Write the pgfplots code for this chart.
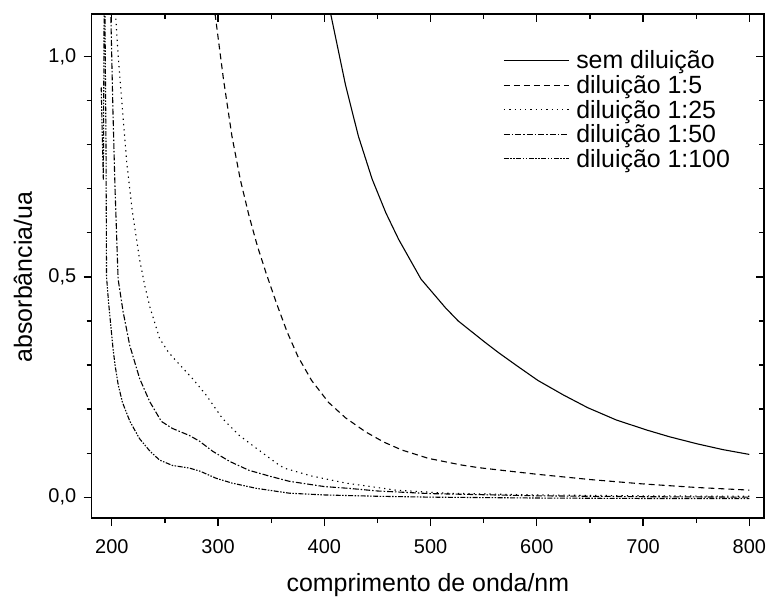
\documentclass[border=0pt]{standalone}
\usepackage{pgfplots}
\pgfplotsset{compat=1.18}
\usepackage{fontspec}
\setmainfont{Liberation Sans}
\begin{document}
\begin{tikzpicture}
\pgfplotsset{
  common/.style={
    scale only axis, width=675pt, height=506pt,
    xmin=181, xmax=814, ymin=-0.0475, ymax=1.097,
    xtick={200,300,...,800}, minor x tick num=1,
    ytick={0,0.5,1}, minor y tick num=4,
    axis line style={line width=1.6pt},
    major tick length=8pt, minor tick length=5pt,
    every tick/.style={black, line width=1.2pt},
  }
}
\begin{axis}[common,
    xtick pos=bottom, ytick pos=left, tick align=outside,
    /pgf/number format/assume math mode=true,
    xticklabel style={font=\fontsize{20}{24}\selectfont, yshift=-10pt},
    yticklabel style={font=\fontsize{20}{24}\selectfont, xshift=-4pt, /pgf/number format/.cd, fixed, fixed zerofill, precision=1, use comma},
    xlabel={comprimento de onda/nm},
    ylabel={absorbância/ua},
    xlabel style={font=\fontsize{25}{29}\selectfont, at={(axis description cs:0.5,-0.146)}, anchor=base},
    ylabel style={font=\fontsize{25}{29}\selectfont, at={(axis description cs:-0.089,0.478)}, anchor=base},
    legend cell align=left,
    legend style={draw=none, fill=none, at={(axis description cs:0.612,0.927)}, anchor=north west,
      font=\fontsize{25}{29}\selectfont, row sep=5pt, inner sep=0pt,
      nodes={inner sep=0pt},
      /tikz/every odd column/.append style={column sep=7pt}},
    legend image code/.code={\draw[#1] (0pt,0pt) -- (65pt,0pt);},
    every axis plot/.append style={black, line width=1.1pt},
]
\addplot[solid] coordinates {
(400,1.20) (406,1.097) (420,0.935) (432,0.82) (445,0.722) (458,0.645) (470,0.585)
(491,0.495) (514,0.43) (526,0.40) (551,0.352) (564,0.328) (582,0.297) (601,0.265)
(625,0.232) (648,0.203) (675,0.175) (704,0.152) (725,0.137) (751,0.121) (775,0.108) (800,0.097)
};
\addlegendentry{sem diluição}
\addplot[dash pattern=on 6pt off 4pt] coordinates {
(290,1.30) (297,1.10) (305,0.95) (313,0.82) (321,0.72) (329,0.64) (337,0.57) (345,0.51)
(355,0.44) (365,0.375) (375,0.32) (388,0.265) (404,0.215) (420,0.18) (439,0.148)
(456,0.125) (473,0.107) (498,0.088) (529,0.073) (545,0.067) (600,0.052) (650,0.040)
(700,0.030) (750,0.022) (800,0.016)
};
\addlegendentry{diluição 1:5}
\addplot[dash pattern=on 1.3pt off 4pt] coordinates {
(201,1.35) (203.5,1.097) (206,1.0) (210,0.88) (214,0.76) (219,0.654) (226,0.541)
(231,0.48) (236,0.43) (245,0.36) (253,0.33) (261,0.308) (276,0.269) (289,0.231)
(304,0.179) (320,0.140) (336,0.111) (355,0.077) (362,0.066) (388,0.048) (420,0.032)
(467,0.016) (514,0.009) (600,0.005) (700,0.003) (800,0.002)
};
\addlegendentry{diluição 1:25}
\addplot[dash pattern=on 6pt off 2pt on 1.5pt off 2pt] coordinates {
(196,1.35) (199,1.10) (201,0.88) (203,0.70) (205.9,0.495) (210.6,0.421) (216.9,0.344)
(226.2,0.269) (235.6,0.217) (246.6,0.172) (257,0.156) (273,0.140) (282.5,0.127)
(295,0.104) (311,0.081) (329,0.061) (348,0.048) (367,0.036) (400,0.024) (423,0.020)
(450,0.014) (500,0.008) (600,0.003) (700,0.001) (800,0.000)
};
\addlegendentry{diluição 1:50}
\addplot[dash pattern=on 5pt off 1.5pt on 1.5pt off 1.5pt on 1.5pt off 1.5pt] coordinates {
(190,0.93) (191,0.82) (192,0.72) (193,1.25) (194.5,0.80) (195,0.50) (197,0.44)
(199,0.39) (201,0.34) (203,0.30) (206,0.255) (210,0.215) (217,0.172) (226,0.133)
(236,0.104) (245,0.084) (257,0.072) (273,0.066) (283,0.059) (298,0.043) (313,0.032)
(336,0.020) (367,0.009) (400,0.005) (450,0.002) (500,0.000) (600,-0.002) (700,-0.003) (800,-0.003)
};
\addlegendentry{diluição 1:100}
\end{axis}
\begin{axis}[common,
    xtick pos=top, ytick pos=right, tick align=inside,
    xticklabels={}, yticklabels={},
]
\end{axis}
\path[use as bounding box] (-92pt,-77pt) rectangle (679pt,520pt);
\end{tikzpicture}
\end{document}
